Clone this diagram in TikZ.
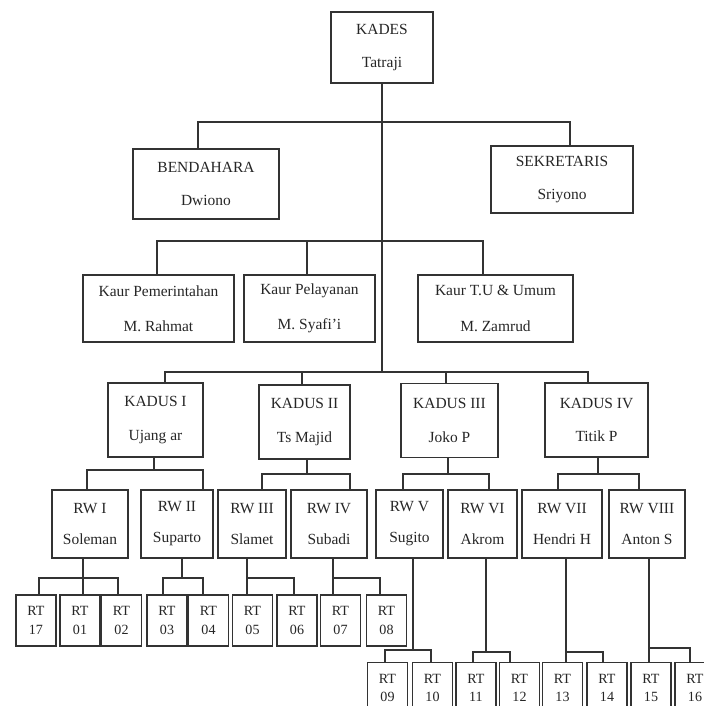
\documentclass[tikz,border=0pt]{standalone}
\usepackage{fontspec}
\setmainfont{Liberation Serif}
\begin{document}
\begin{tikzpicture}[x=0.025cm,y=-0.025cm,
    box/.style={draw=black!80,line width=1.1pt,align=center,inner sep=0pt,
      text=black!85,font=\fontsize{11}{13}\selectfont},
    rtbox/.style={box,font=\fontsize{10}{12}\selectfont,
      minimum width=1.0cm,minimum height=1.275cm},
    link/.style={draw=black!80,line width=0.9pt}]
  \useasboundingbox (0,0) rectangle (704,706);
  \clip (0,0) rectangle (704,706);
  % kades, bendahara, sekretaris
  \node[box,minimum width=2.55cm,minimum height=1.775cm] (kades) at (382,47.5) {KADES\\[10pt]Tatraji};
  \node[box,minimum width=3.65cm,minimum height=1.75cm] (bend) at (206,184) {BENDAHARA\\[10pt]Dwiono};
  \node[box,minimum width=3.55cm,minimum height=1.675cm] (sekr) at (562,179.5) {SEKRETARIS\\[10pt]Sriyono};
  % kaur
  \node[box,minimum width=3.775cm,minimum height=1.675cm] (kpem) at (158.5,308.5) {Kaur Pemerintahan\\[12pt]M. Rahmat};
  \node[box,minimum width=3.275cm,minimum height=1.675cm] (kpel) at (309.5,308.5) {Kaur Pelayanan\\[12pt]M. Syafi'i};
  \node[box,minimum width=3.875cm,minimum height=1.675cm] (ktu) at (495.5,308.5) {Kaur T.U \& Umum\\[12pt]M. Zamrud};
  % kadus
  \node[box,minimum width=2.375cm,minimum height=1.85cm] (kd1) at (155.5,420) {KADUS I\\[11pt]Ujang ar};
  \node[box,minimum width=2.275cm,minimum height=1.85cm] (kd2) at (304.5,422) {KADUS II\\[11pt]Ts Majid};
  \node[box,minimum width=2.425cm,minimum height=1.85cm] (kd3) at (449.5,420.5) {KADUS III\\[11pt]Joko P};
  \node[box,minimum width=2.575cm,minimum height=1.85cm] (kd4) at (596.5,420) {KADUS IV\\[11pt]Titik P};
  % rw
  \foreach \n/\x/\w/\t in {rw1/90/1.9/{RW I\\[9pt]Soleman},rw2/177/1.8/{RW II\\[9pt]Suparto},
      rw3/252/1.7/{RW III\\[9pt]Slamet},rw4/329/1.9/{RW IV\\[9pt]Subadi},
      rw5/409.5/1.675/{RW V\\[9pt]Sugito},rw6/482.5/1.725/{RW VI\\[9pt]Akrom},
      rw7/562/2.0/{RW VII\\[9pt]Hendri H},rw8/647/1.9/{RW VIII\\[9pt]Anton S}}
    \node[box,minimum width=\w cm,minimum height=1.7cm] (\n) at (\x,524) {\t};
  % rt
  \foreach \t/\x in {17/36,01/80,02/121.5,03/167,04/208.5,05/252.5,06/297,07/340.5,08/386.5}
    \node[rtbox] (rt\t) at (\x,620.5) {RT\\[1pt]\t};
  \foreach \t/\x in {09/387.5,10/432.5,11/476,12/519.5,13/562.5,14/607,15/651,16/695}
    \node[rtbox] (rt\t) at (\x,688) {RT\\[1pt]\t};
  % bus points
  \coordinate (busA) at (382,122);
  \coordinate (busB) at (382,241);
  \coordinate (busC) at (382,372);
  \coordinate (k1) at (154,470);
  \coordinate (k2) at (307,474);
  \coordinate (k3) at (448,474);
  \coordinate (k4) at (598,474);
  \coordinate (r1) at (83,578);
  \coordinate (r2) at (182,578);
  \coordinate (r3) at (247,578);
  \coordinate (r4) at (333,578);
  \coordinate (r5) at (413,650);
  \coordinate (r6) at (486,652);
  \coordinate (r7) at (566,652);
  \coordinate (r8) at (649,648);
  % connectors
  \draw[link] (kades.south) -- (busC);
  \foreach \n/\x in {bend/198,sekr/570}
    \draw[link] (\n.north -| \x,0) |- (busA);
  \foreach \n/\x in {kpem/157,kpel/307,ktu/483}
    \draw[link] (\n.north -| \x,0) |- (busB);
  \foreach \n/\x in {kd1/165,kd2/302,kd3/446,kd4/588}
    \draw[link] (\n.north -| \x,0) |- (busC);
  \foreach \p/\k in {kd1/k1,kd2/k2,kd3/k3,kd4/k4}
    \draw[link] (\p.south -| \k) -- (\k);
  \foreach \n/\x/\k in {rw1/87/k1,rw2/203/k1,rw3/262/k2,rw4/350/k2,
      rw5/403/k3,rw6/489/k3,rw7/558/k4,rw8/639/k4}
    \draw[link] (\n.north -| \x,0) |- (\k);
  \foreach \p/\k in {rw1/r1,rw2/r2,rw3/r3,rw4/r4,rw5/r5,rw6/r6,rw7/r7,rw8/r8}
    \draw[link] (\p.south -| \k) -- (\k);
  \foreach \n/\x/\k in {rt17/39/r1,rt01/83/r1,rt02/118/r1,rt03/163/r2,rt04/203/r2,
      rt05/247/r3,rt06/294/r3,rt07/333/r4,rt08/380/r4,rt09/385/r5,rt10/431/r5,
      rt11/473/r6,rt12/510/r6,rt13/566/r7,rt14/603/r7,rt15/649/r8,rt16/690/r8}
    \draw[link] (\n.north -| \x,0) |- (\k);
\end{tikzpicture}
\end{document}
